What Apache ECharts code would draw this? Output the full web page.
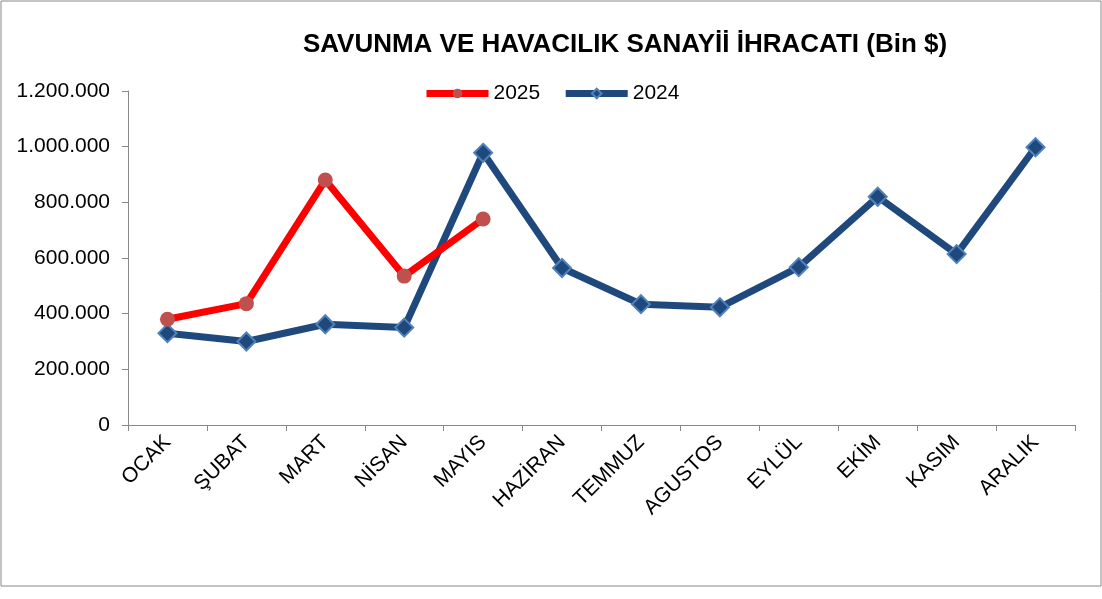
<!DOCTYPE html>
<html><head><meta charset="utf-8">
<script src="https://cdn.jsdelivr.net/npm/echarts@6/dist/echarts.min.js"></script>
<style>html,body{margin:0;padding:0;background:#fff}#c{width:1102px;height:599px}</style>
</head><body><div id="c"></div>
<script>
const categories = ['OCAK','ŞUBAT','MART','NİSAN','MAYIS','HAZİRAN','TEMMUZ','AGUSTOS','EYLÜL','EKİM','KASIM','ARALIK'];
const values2025 = [380000, 436000, 880000, 535000, 740000];
const values2024 = [330000, 300000, 362000, 350000, 978000, 564000, 434000, 423000, 567000, 820000, 614000, 998000];
const fmt = v => String(v).replace(/\B(?=(\d{3})+(?!\d))/g, '.');
const chart = echarts.init(document.getElementById('c'));
chart.setOption({
  animation:false,
  graphic:[{type:'rect',shape:{x:1,y:1,width:1100,height:585},style:{fill:'none',stroke:'#888',lineWidth:1}}],
  title:{text:'SAVUNMA VE HAVACILIK SANAYİİ İHRACATI (Bin $)',left:620,top:27,textAlign:'center',
    textStyle:{fontFamily:'Liberation Sans, Arial',fontSize:26,fontWeight:'bold',color:'#000'}},
  legend:{top:78,left:418,itemWidth:62,itemHeight:12,itemGap:22,
    lineStyle:{width:7},
    textStyle:{fontFamily:'Liberation Sans, Arial',fontSize:21,color:'#000'},
    data:['2025','2024']},
  grid:{left:128,right:27,top:91,bottom:174},
  xAxis:{type:'category',data:categories,boundaryGap:true,
    axisLine:{lineStyle:{color:'#888'}},axisTick:{show:true,length:6,lineStyle:{color:'#888'}},
    axisLabel:{rotate:45,color:'#000',fontFamily:'Liberation Sans, Arial',fontSize:21,margin:14,interval:0}},
  yAxis:{type:'value',min:0,max:1200000,interval:200000,splitLine:{show:false},
    axisLine:{show:true,lineStyle:{color:'#888'}},axisTick:{show:true,length:6,lineStyle:{color:'#888'}},
    axisLabel:{formatter:fmt,color:'#000',fontFamily:'Liberation Sans, Arial',fontSize:21,margin:18}},
  series:[
    {name:'2025',type:'line',data:values2025,symbol:'circle',symbolSize:15,
      lineStyle:{color:'#ff0000',width:7},itemStyle:{color:'#c0504d'},z:3},
    {name:'2024',type:'line',data:values2024,symbol:'diamond',symbolSize:18,
      lineStyle:{color:'#1f497d',width:7},itemStyle:{color:'#1f497d',borderColor:'#4f81bd',borderWidth:2},z:2}
  ]
});
</script></body></html>
